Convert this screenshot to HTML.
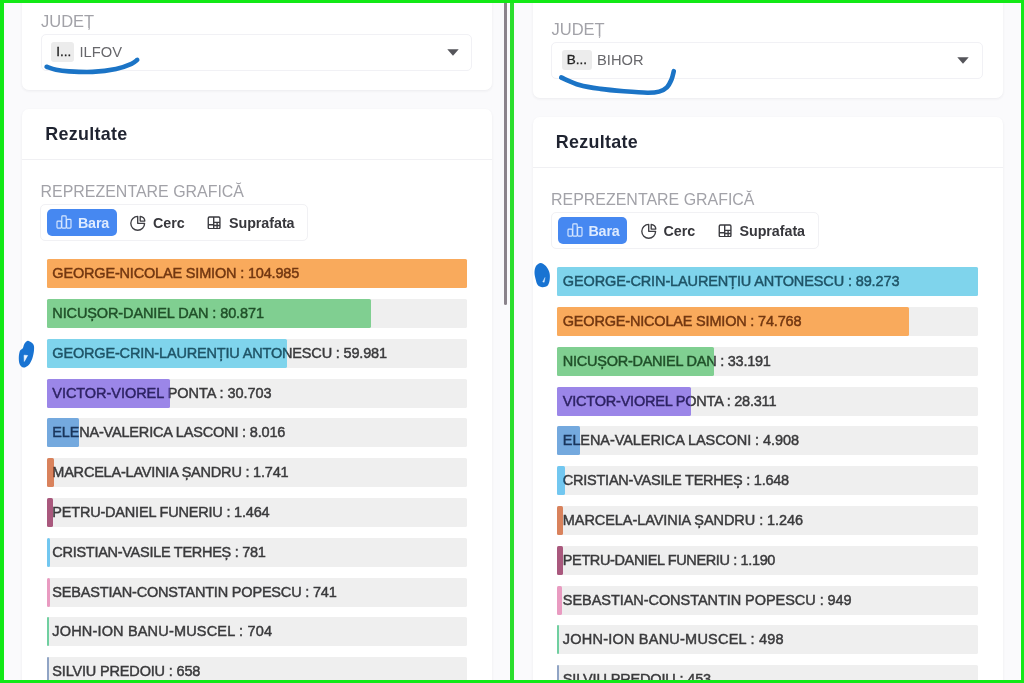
<!DOCTYPE html>
<html><head><meta charset="utf-8"><title>Rezultate</title>
<style>
html,body{margin:0;padding:0}
body{width:1024px;height:683px;position:relative;overflow:hidden;background:#12e916;font-family:"Liberation Sans",sans-serif}
.panel{position:absolute;overflow:hidden;background:#fafafc}
.inner{filter:blur(0.4px);width:520px;height:700px}
.panel.L{left:3.5px;top:3px;width:506.5px;height:676.5px}
.panel.R{left:514px;top:3px;width:507px;height:676.5px}
.inner{position:absolute;left:0;top:0}
.inner>*{position:absolute}
.L .inner{left:-3.5px;top:-3px}
.R .inner{left:-3.5px;top:5px}
.c1{left:22px;top:-20px;width:470px;height:110px}
.c2{left:22px;top:109.3px;width:470px;height:700px}
.judet{left:41px;top:13.4px;font-size:16.5px;color:#a2a2a8}
.select{left:40.6px;top:33.8px;width:431.6px;height:37.2px}
.chip{left:9.6px;top:7.1px;height:20.4px;line-height:20.4px;padding:0 2.9px 0 5px;-webkit-text-stroke:0.3px #222}
.R .chip{padding-right:4.7px}
.chip .county{position:absolute;left:100%;margin-left:5.4px;top:3.1px;-webkit-text-stroke:0}
.arrow{left:405px;top:13.8px}
.rez{left:45.2px;top:126px;font-size:17.9px;letter-spacing:0.3px;font-weight:bold;color:#1f2330}
.divider{left:22px;top:158.5px;width:470px}
.repr{left:40.6px;top:184px;font-size:15.95px;color:#a2a2a8}
.tg{left:40px;top:204px;width:268px;height:37px}
.btn.on{left:6px;top:4px;width:69.6px;height:27px}
.ic.i1{left:15.3px;top:10px;width:16px;height:14px}
.ic.i2{left:89.1px;top:9.9px;width:16px;height:16px}
.ic.i3{left:166.2px;top:10.5px;width:14.2px;height:13.6px}
.bt{top:10.9px}
.b1{left:37px}.b2{left:112px}.b3{left:188px}
.card{background:#fff;border-radius:7px;box-shadow:0 1px 3px rgba(40,40,60,.07)}
.t{white-space:nowrap;line-height:1}
.row{left:46.7px;width:420.6px;height:29px;background:#efefef;border-radius:1.6px;position:absolute}
.fill{position:absolute;left:0;top:0;height:29px;border-radius:1.6px}
.lbl{position:absolute;left:0;top:0px;width:100%;box-sizing:border-box;padding-left:5.6px;line-height:29px;font-size:14.5px;letter-spacing:-0.12px;color:#3a3a3c;white-space:nowrap;-webkit-text-stroke:0.45px currentColor}
.select{border:1px solid #f1f1f5;border-radius:5px;background:#fff;box-sizing:border-box}
.chip{position:absolute;background:#ececec;border-radius:3px;color:#222;font-size:13.5px;white-space:nowrap}
.county{position:absolute;color:#68686c;font-size:14.7px;line-height:1}
.arrow{position:absolute;width:12px;height:7px}
.divider{height:1px;background:#f0f0f3}
.tg{border:1px solid #f1f1f4;border-radius:5px;box-sizing:border-box;background:#fff}
.tg>*{position:absolute}
.btn.on{background:#4688f1;border-radius:5px}
.bt{font-weight:bold;font-size:14.3px;letter-spacing:-0.05px;line-height:1;color:#37373c;white-space:nowrap}
.bt.b1{color:#deebff;letter-spacing:-0.2px}
.ann{left:0;top:0;width:510px;height:683px;pointer-events:none}
.mid{position:absolute;left:510px;top:3px;width:4px;height:676.5px;background:#2bde2d}
.sb{position:absolute;left:504px;top:3px;width:3px;height:302px;background:#8a838b;border-radius:0 0 2px 2px}
</style></head><body>
<div class="panel L"><div class="inner">
<div class="card c1"></div>
<div class="card c2"></div>
<div class="t judet">JUDEȚ</div>
<div class="select"><span class="chip">I...<span class="county">ILFOV</span></span><svg class="arrow" viewBox="0 0 12 7"><path d="M0.3 0.2h11.4L6 6.8z" fill="#55555a"/></svg></div>
<div class="t rez">Rezultate</div>
<div class="divider"></div>
<div class="t repr">REPREZENTARE GRAFICĂ</div>
<div class="tg">
 <div class="btn on"></div>
 <svg class="ic i1" viewBox="0 0 18 16" fill="none" stroke="#d8e8ff" stroke-width="1.3" stroke-linejoin="round"><rect x="1" y="7" width="5" height="8" rx="1"/><rect x="6.5" y="1" width="5" height="14" rx="1"/><rect x="12" y="5" width="5" height="10" rx="1"/></svg>
 <span class="bt b1">Bara</span>
 <svg class="ic i2" viewBox="0 0 16 16" fill="none" stroke="#3f3f44" stroke-width="1.35" stroke-linejoin="round" stroke-linecap="round"><path d="M7.7 1.4A6.9 6.9 0 1 0 14.6 8.3H7.7z"/><path d="M10.2 6.1V1.5A4.6 4.6 0 0 1 14.8 6.1z"/></svg>
 <span class="bt b2">Cerc</span>
 <svg class="ic i3" viewBox="0 0 14 14" fill="none" stroke="#3a3a3f" stroke-width="1.4" stroke-linejoin="round"><rect x="1" y="1" width="12" height="12" rx="1.2"/><path d="M6.6 1v12M1 9h5.6M6.6 6.6h6.4M10.1 6.6v6.4M6.6 9.8h6.4"/></svg>
 <span class="bt b3">Suprafata</span>
</div>
<div class="row" style="top:259.0px"><span class="lbl" style="letter-spacing:-0.174px">GEORGE-NICOLAE SIMION : 104.985</span><div class="fill" style="width:420.6px;background:#f9aa5c"></div><span class="lbl over" style="letter-spacing:-0.174px;color:rgb(114,55,17);clip-path:inset(0 0.0px 0 0)">GEORGE-NICOLAE SIMION : 104.985</span></div>
<div class="row" style="top:298.8px"><span class="lbl" style="letter-spacing:-0.112px">NICUȘOR-DANIEL DAN : 80.871</span><div class="fill" style="width:324.0px;background:#80cf91"></div><span class="lbl over" style="letter-spacing:-0.112px;color:rgb(32,80,41);clip-path:inset(0 96.6px 0 0)">NICUȘOR-DANIEL DAN : 80.871</span></div>
<div class="row" style="top:338.6px"><span class="lbl" style="letter-spacing:-0.169px">GEORGE-CRIN-LAURENȚIU ANTONESCU : 59.981</span><div class="fill" style="width:240.3px;background:#7fd4ec"></div><span class="lbl over" style="letter-spacing:-0.169px;color:rgb(31,84,103);clip-path:inset(0 180.3px 0 0)">GEORGE-CRIN-LAURENȚIU ANTONESCU : 59.981</span></div>
<div class="row" style="top:378.5px"><span class="lbl" style="letter-spacing:-0.046px">VICTOR-VIOREL PONTA : 30.703</span><div class="fill" style="width:123.0px;background:#9b86e8"></div><span class="lbl over" style="letter-spacing:-0.046px;color:rgb(46,35,100);clip-path:inset(0 297.6px 0 0)">VICTOR-VIOREL PONTA : 30.703</span></div>
<div class="row" style="top:418.3px"><span class="lbl" style="letter-spacing:-0.180px">ELENA-VALERICA LASCONI : 8.016</span><div class="fill" style="width:32.1px;background:#74a9de"></div><span class="lbl over" style="letter-spacing:-0.180px;color:rgb(26,54,92);clip-path:inset(0 388.5px 0 0)">ELENA-VALERICA LASCONI : 8.016</span></div>
<div class="row" style="top:458.1px"><span class="lbl" style="letter-spacing:-0.207px">MARCELA-LAVINIA ȘANDRU : 1.741</span><div class="fill" style="width:7.0px;background:#d9825c"></div><span class="lbl over" style="letter-spacing:-0.207px;color:rgb(88,33,17);clip-path:inset(0 413.6px 0 0)">MARCELA-LAVINIA ȘANDRU : 1.741</span></div>
<div class="row" style="top:497.9px"><span class="lbl" style="letter-spacing:-0.198px">PETRU-DANIEL FUNERIU : 1.464</span><div class="fill" style="width:5.9px;background:#a9587d"></div><span class="lbl over" style="letter-spacing:-0.198px;color:rgb(54,15,30);clip-path:inset(0 414.7px 0 0)">PETRU-DANIEL FUNERIU : 1.464</span></div>
<div class="row" style="top:537.7px"><span class="lbl" style="letter-spacing:-0.276px">CRISTIAN-VASILE TERHEȘ : 781</span><div class="fill" style="width:3.1px;background:#72c7f0"></div><span class="lbl over" style="letter-spacing:-0.276px;color:rgb(25,74,106);clip-path:inset(0 417.5px 0 0)">CRISTIAN-VASILE TERHEȘ : 781</span></div>
<div class="row" style="top:577.6px"><span class="lbl" style="letter-spacing:-0.185px">SEBASTIAN-CONSTANTIN POPESCU : 741</span><div class="fill" style="width:3.0px;background:#e99bc1"></div><span class="lbl over" style="letter-spacing:-0.185px;color:rgb(100,46,70);clip-path:inset(0 417.6px 0 0)">SEBASTIAN-CONSTANTIN POPESCU : 741</span></div>
<div class="row" style="top:617.4px"><span class="lbl" style="letter-spacing:0.172px">JOHN-ION BANU-MUSCEL : 704</span><div class="fill" style="width:2.8px;background:#70cfa0"></div><span class="lbl over" style="letter-spacing:0.172px;color:rgb(25,80,49);clip-path:inset(0 417.8px 0 0)">JOHN-ION BANU-MUSCEL : 704</span></div>
<div class="row" style="top:657.2px"><span class="lbl" style="letter-spacing:-0.165px">SILVIU PREDOIU : 658</span><div class="fill" style="width:2.6px;background:#90a4c5"></div><span class="lbl over" style="letter-spacing:-0.165px;color:rgb(40,51,73);clip-path:inset(0 418.0px 0 0)">SILVIU PREDOIU : 658</span></div>
<svg class="ann" viewBox="0 0 510 683"><path d="M46.60 66.80 C48.17 67.30 52.27 69.03 56.00 69.80 C59.73 70.57 62.92 71.05 69.00 71.40 C75.08 71.75 84.67 72.30 92.50 71.90 C100.33 71.50 109.50 70.35 116.00 69.00 C122.50 67.65 127.97 65.32 131.50 63.80 C135.03 62.28 136.25 60.55 137.20 59.90" fill="none" stroke="#1b74c6" stroke-width="4.6" stroke-linecap="round" stroke-linejoin="round"/>
<path d="M28.70 340.90 C29.87 341.40 32.52 342.85 33.40 344.40 C34.28 345.95 34.18 347.87 34.00 350.20 C33.82 352.53 33.18 355.95 32.30 358.40 C31.42 360.85 30.17 363.38 28.70 364.90 C27.23 366.42 25.00 367.60 23.50 367.50 C22.00 367.40 20.48 366.00 19.70 364.30 C18.92 362.60 18.75 359.55 18.80 357.30 C18.85 355.05 19.37 352.25 20.00 350.80 C20.63 349.35 21.92 349.67 22.60 348.60 C23.28 347.53 23.47 345.60 24.10 344.40 C24.73 343.20 25.63 341.98 26.40 341.40 C27.17 340.82 27.53 340.40 28.70 340.90z" fill="#1873d2"/><path d="M24.1 355.2L27.6 355.5L24.3 361.4z" fill="#eef6ff" stroke="#eef6ff" stroke-width="0.6" stroke-linejoin="round"/></svg>
</div></div>
<div class="panel R"><div class="inner">
<div class="card c1"></div>
<div class="card c2"></div>
<div class="t judet">JUDEȚ</div>
<div class="select"><span class="chip">B...<span class="county">BIHOR</span></span><svg class="arrow" viewBox="0 0 12 7"><path d="M0.3 0.2h11.4L6 6.8z" fill="#55555a"/></svg></div>
<div class="t rez">Rezultate</div>
<div class="divider"></div>
<div class="t repr">REPREZENTARE GRAFICĂ</div>
<div class="tg">
 <div class="btn on"></div>
 <svg class="ic i1" viewBox="0 0 18 16" fill="none" stroke="#d8e8ff" stroke-width="1.3" stroke-linejoin="round"><rect x="1" y="7" width="5" height="8" rx="1"/><rect x="6.5" y="1" width="5" height="14" rx="1"/><rect x="12" y="5" width="5" height="10" rx="1"/></svg>
 <span class="bt b1">Bara</span>
 <svg class="ic i2" viewBox="0 0 16 16" fill="none" stroke="#3f3f44" stroke-width="1.35" stroke-linejoin="round" stroke-linecap="round"><path d="M7.7 1.4A6.9 6.9 0 1 0 14.6 8.3H7.7z"/><path d="M10.2 6.1V1.5A4.6 4.6 0 0 1 14.8 6.1z"/></svg>
 <span class="bt b2">Cerc</span>
 <svg class="ic i3" viewBox="0 0 14 14" fill="none" stroke="#3a3a3f" stroke-width="1.4" stroke-linejoin="round"><rect x="1" y="1" width="12" height="12" rx="1.2"/><path d="M6.6 1v12M1 9h5.6M6.6 6.6h6.4M10.1 6.6v6.4M6.6 9.8h6.4"/></svg>
 <span class="bt b3">Suprafata</span>
</div>
<div class="row" style="top:259.0px"><span class="lbl" style="letter-spacing:-0.120px">GEORGE-CRIN-LAURENȚIU ANTONESCU : 89.273</span><div class="fill" style="width:420.6px;background:#7fd4ec"></div><span class="lbl over" style="letter-spacing:-0.120px;color:rgb(31,84,103);clip-path:inset(0 0.0px 0 0)">GEORGE-CRIN-LAURENȚIU ANTONESCU : 89.273</span></div>
<div class="row" style="top:298.8px"><span class="lbl" style="letter-spacing:-0.189px">GEORGE-NICOLAE SIMION : 74.768</span><div class="fill" style="width:352.3px;background:#f9aa5c"></div><span class="lbl over" style="letter-spacing:-0.189px;color:rgb(114,55,17);clip-path:inset(0 68.3px 0 0)">GEORGE-NICOLAE SIMION : 74.768</span></div>
<div class="row" style="top:338.6px"><span class="lbl" style="letter-spacing:-0.251px">NICUȘOR-DANIEL DAN : 33.191</span><div class="fill" style="width:156.4px;background:#80cf91"></div><span class="lbl over" style="letter-spacing:-0.251px;color:rgb(32,80,41);clip-path:inset(0 264.2px 0 0)">NICUȘOR-DANIEL DAN : 33.191</span></div>
<div class="row" style="top:378.5px"><span class="lbl" style="letter-spacing:-0.214px">VICTOR-VIOREL PONTA : 28.311</span><div class="fill" style="width:133.4px;background:#9b86e8"></div><span class="lbl over" style="letter-spacing:-0.214px;color:rgb(46,35,100);clip-path:inset(0 287.2px 0 0)">VICTOR-VIOREL PONTA : 28.311</span></div>
<div class="row" style="top:418.3px"><span class="lbl" style="letter-spacing:-0.072px">ELENA-VALERICA LASCONI : 4.908</span><div class="fill" style="width:23.1px;background:#74a9de"></div><span class="lbl over" style="letter-spacing:-0.072px;color:rgb(26,54,92);clip-path:inset(0 397.5px 0 0)">ELENA-VALERICA LASCONI : 4.908</span></div>
<div class="row" style="top:458.1px"><span class="lbl" style="letter-spacing:-0.233px">CRISTIAN-VASILE TERHEȘ : 1.648</span><div class="fill" style="width:7.8px;background:#72c7f0"></div><span class="lbl over" style="letter-spacing:-0.233px;color:rgb(25,74,106);clip-path:inset(0 412.8px 0 0)">CRISTIAN-VASILE TERHEȘ : 1.648</span></div>
<div class="row" style="top:497.9px"><span class="lbl" style="letter-spacing:-0.069px">MARCELA-LAVINIA ȘANDRU : 1.246</span><div class="fill" style="width:5.9px;background:#d9825c"></div><span class="lbl over" style="letter-spacing:-0.069px;color:rgb(88,33,17);clip-path:inset(0 414.7px 0 0)">MARCELA-LAVINIA ȘANDRU : 1.246</span></div>
<div class="row" style="top:537.7px"><span class="lbl" style="letter-spacing:-0.372px">PETRU-DANIEL FUNERIU : 1.190</span><div class="fill" style="width:5.6px;background:#a9587d"></div><span class="lbl over" style="letter-spacing:-0.372px;color:rgb(54,15,30);clip-path:inset(0 415.0px 0 0)">PETRU-DANIEL FUNERIU : 1.190</span></div>
<div class="row" style="top:577.6px"><span class="lbl" style="letter-spacing:-0.052px">SEBASTIAN-CONSTANTIN POPESCU : 949</span><div class="fill" style="width:4.5px;background:#e99bc1"></div><span class="lbl over" style="letter-spacing:-0.052px;color:rgb(100,46,70);clip-path:inset(0 416.1px 0 0)">SEBASTIAN-CONSTANTIN POPESCU : 949</span></div>
<div class="row" style="top:617.4px"><span class="lbl" style="letter-spacing:0.220px">JOHN-ION BANU-MUSCEL : 498</span><div class="fill" style="width:2.3px;background:#70cfa0"></div><span class="lbl over" style="letter-spacing:0.220px;color:rgb(25,80,49);clip-path:inset(0 418.3px 0 0)">JOHN-ION BANU-MUSCEL : 498</span></div>
<div class="row" style="top:657.2px"><span class="lbl" style="letter-spacing:-0.149px">SILVIU PREDOIU : 453</span><div class="fill" style="width:2.1px;background:#90a4c5"></div><span class="lbl over" style="letter-spacing:-0.149px;color:rgb(40,51,73);clip-path:inset(0 418.5px 0 0)">SILVIU PREDOIU : 453</span></div>
<svg class="ann" viewBox="0 0 510 683"><path d="M50.20 69.50 C53.25 70.75 61.95 75.10 68.50 77.00 C75.05 78.90 82.10 79.86 89.50 80.90 C96.90 81.94 105.08 82.62 112.90 83.25 C120.72 83.88 130.53 84.64 136.40 84.70 C142.27 84.76 144.85 84.50 148.10 83.60 C151.35 82.70 153.83 81.32 155.90 79.30 C157.97 77.28 159.35 74.18 160.50 71.50 C161.65 68.82 162.42 64.58 162.80 63.20" fill="none" stroke="#1b74c6" stroke-width="4.6" stroke-linecap="round" stroke-linejoin="round"/>
<path d="M29.70 254.90 C31.35 254.90 33.45 256.48 34.90 258.10 C36.35 259.72 37.77 262.35 38.40 264.60 C39.03 266.85 38.98 269.45 38.70 271.60 C38.42 273.75 37.92 276.23 36.70 277.50 C35.48 278.77 33.07 279.30 31.40 279.20 C29.73 279.10 27.82 278.17 26.70 276.90 C25.58 275.63 25.23 273.65 24.70 271.60 C24.17 269.55 23.45 266.85 23.50 264.60 C23.55 262.35 23.97 259.72 25.00 258.10 C26.03 256.48 28.05 254.90 29.70 254.90z" fill="#1873d2"/><path d="M34 269.5L31.7 273.9L33.2 274.2z" fill="#d8ecff" stroke="#d8ecff" stroke-width="0.4" stroke-linejoin="round"/></svg>
</div></div>
<div class="sb"></div><div class="mid"></div>
</body></html>
